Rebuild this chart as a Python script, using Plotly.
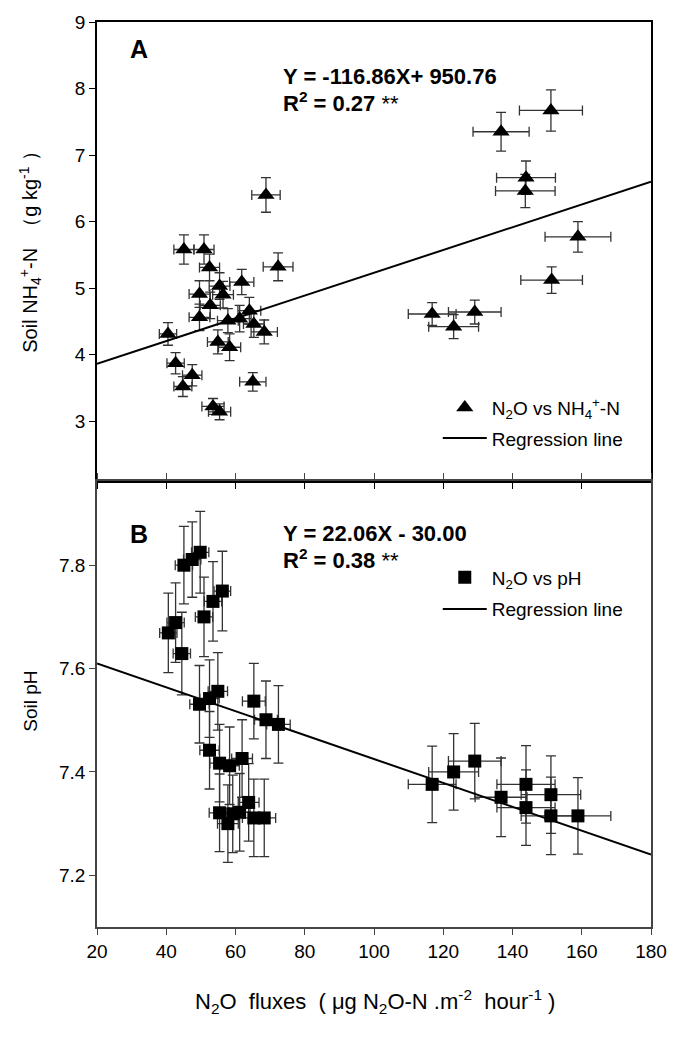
import plotly.graph_objects as go

# ---------------- Data: panel A (N2O vs NH4+-N) ----------------
a_x = [45.1, 50.9, 52.5, 55.4, 49.6, 56.4, 61.8, 72.3, 52.7, 49.6, 64.0, 57.8, 61.2,
       65.3, 68.3, 40.5, 54.9, 58.3, 42.7, 47.5, 44.8, 65.0, 53.5, 55.4, 68.8,
       151.1, 136.7, 143.9, 143.7, 158.9, 151.3, 116.8, 129.1, 123.0]
a_y = [5.58, 5.58, 5.31, 5.03, 4.91, 4.90, 5.09, 5.32, 4.74, 4.56, 4.66, 4.51, 4.54,
       4.46, 4.34, 4.31, 4.19, 4.11, 3.87, 3.69, 3.52, 3.59, 3.22, 3.14, 6.40,
       7.67, 7.35, 6.66, 6.46, 5.77, 5.12, 4.61, 4.64, 4.42]
a_ex = [2.9, 2.9, 2.9, 3.0, 3.0, 3.0, 3.5, 4.3, 2.9, 3.0, 3.3, 3.0, 3.3,
        3.0, 3.8, 2.5, 3.0, 3.2, 2.5, 2.8, 2.6, 3.8, 3.2, 3.2, 4.1,
        9.1, 8.1, 8.5, 8.6, 9.5, 8.9, 6.9, 7.6, 7.2]
a_ey = [0.22, 0.22, 0.20, 0.20, 0.20, 0.20, 0.19, 0.21, 0.20, 0.20, 0.20, 0.18, 0.20,
        0.20, 0.18, 0.17, 0.18, 0.20, 0.16, 0.16, 0.15, 0.14, 0.12, 0.12, 0.26,
        0.31, 0.29, 0.25, 0.25, 0.23, 0.20, 0.17, 0.18, 0.18]
a_reg_x = [20, 180]
a_reg_y = [3.86, 6.60]

# ---------------- Data: panel B (N2O vs pH) ----------------
b_x = [45.1, 47.5, 49.8, 56.2, 53.5, 50.9, 42.7, 40.6, 44.5, 54.9, 52.5, 49.6, 65.3,
       68.8, 72.4, 52.5, 55.4, 58.3, 61.9, 63.8, 55.4, 57.8, 59.2, 61.2, 65.3, 68.3,
       116.8, 123.0, 129.1, 136.7, 143.9, 143.9, 151.1, 151.1, 158.9]
b_y = [7.800, 7.811, 7.825, 7.750, 7.730, 7.700, 7.689, 7.669, 7.629, 7.556, 7.542,
       7.531, 7.537, 7.501, 7.492, 7.442, 7.417, 7.412, 7.426, 7.341, 7.321, 7.300,
       7.319, 7.322, 7.311, 7.311,
       7.376, 7.400, 7.421, 7.351, 7.376, 7.331, 7.356, 7.315, 7.315]
b_ex = [2.5, 2.5, 2.5, 2.4, 2.5, 2.5, 2.5, 2.5, 2.5, 2.8, 2.8, 2.8, 3.3,
        3.3, 3.4, 2.8, 2.8, 2.8, 3.0, 3.0, 3.0, 3.0, 3.0, 3.0, 3.3, 3.3,
        6.9, 7.2, 7.6, 7.5, 8.4, 8.4, 8.6, 8.6, 9.5]
b_ey = [0.075, 0.073, 0.079, 0.077, 0.077, 0.077, 0.077, 0.077, 0.080, 0.075, 0.075,
        0.075, 0.073, 0.075, 0.075, 0.075, 0.075, 0.075, 0.075, 0.075, 0.075, 0.075,
        0.075, 0.075, 0.075, 0.075,
        0.074, 0.074, 0.073, 0.076, 0.075, 0.073, 0.075, 0.075, 0.074]
b_reg_x = [20, 180]
b_reg_y = [7.61, 7.24]

x_ticks = [20, 40, 60, 80, 100, 120, 140, 160, 180]
a_y_ticks = [3, 4, 5, 6, 7, 8, 9]
b_y_ticks = [7.2, 7.4, 7.6, 7.8]
b_y_ticklabels = ["7.2", "7.4", "7.6", "7.8"]

# ---------------- Layout geometry ----------------
W, H = 679, 1039
L, R, T, B = 97, 653, 16, 927
split = 478
split_frac = (B - split) / (B - T)


def px(x):
    return (x - L) / (R - L)


def py(y):
    return (B - y) / (B - T)


FONT = "Arial, Liberation Sans, sans-serif"
err_style = dict(type="data", color="#333333", thickness=1.3, width=5)

fig = go.Figure()

fig.add_trace(go.Scatter(
    x=a_x, y=a_y, mode="markers", xaxis="x", yaxis="y",
    name="N<sub>2</sub>O vs NH<sub>4</sub><sup>+</sup>-N",
    marker=dict(symbol="triangle-up", size=15, color="black"),
    error_x=dict(array=a_ex, **err_style),
    error_y=dict(array=a_ey, **err_style),
    legend="legend", legendgroup="a1",
))
fig.add_trace(go.Scatter(
    x=a_reg_x, y=a_reg_y, mode="lines", xaxis="x", yaxis="y",
    name="Regression line", line=dict(color="black", width=2),
    legend="legend", legendgroup="a2",
))
fig.add_trace(go.Scatter(
    x=b_x, y=b_y, mode="markers", xaxis="x2", yaxis="y2",
    name="N<sub>2</sub>O vs pH",
    marker=dict(symbol="square", size=13, color="black"),
    error_x=dict(array=b_ex, **err_style),
    error_y=dict(array=b_ey, **err_style),
    legend="legend2", legendgroup="b1",
))
fig.add_trace(go.Scatter(
    x=b_reg_x, y=b_reg_y, mode="lines", xaxis="x2", yaxis="y2",
    name="Regression line", line=dict(color="black", width=2),
    legend="legend2", legendgroup="b2",
))

tickfont = dict(family=FONT, size=19, color="black")

fig.update_layout(
    width=W, height=H,
    margin=dict(l=L, r=W - R, t=T, b=H - B),
    plot_bgcolor="white", paper_bgcolor="white",
    font=dict(family=FONT, color="black"),
    xaxis=dict(domain=[0, 1], anchor="y", range=[20, 180], tickvals=x_ticks,
               showticklabels=False, ticks="outside", ticklen=6, tickcolor="black",
               showline=True, linecolor="black", linewidth=1.5, mirror=True,
               showgrid=False, zeroline=False),
    yaxis=dict(domain=[split_frac, 1], anchor="x", range=[2.1, 9], tickvals=a_y_ticks,
               ticks="outside", ticklen=6, tickcolor="black", tickfont=tickfont,
               showline=True, linecolor="black", linewidth=1.5, mirror=True,
               showgrid=False, zeroline=False),
    xaxis2=dict(domain=[0, 1], anchor="y2", range=[20, 180], tickvals=x_ticks,
                ticks="outside", ticklen=6, tickcolor="#444", tickfont=tickfont,
                showline=True, linecolor="#444", linewidth=1.5, mirror="ticks",
                showgrid=False, zeroline=False),
    yaxis2=dict(domain=[0, split_frac], anchor="x2", range=[7.1, 7.963],
                tickvals=b_y_ticks, ticktext=b_y_ticklabels,
                ticks="outside", ticklen=6, tickcolor="#444", tickfont=tickfont,
                showline=True, linecolor="#444", linewidth=1.5, mirror=True,
                showgrid=False, zeroline=False),
    legend=dict(x=px(439), y=py(385), xanchor="left", yanchor="top",
                font=dict(family=FONT, size=19), bgcolor="rgba(0,0,0,0)",
                itemwidth=44, tracegroupgap=3),
    legend2=dict(x=px(439), y=py(556), xanchor="left", yanchor="top",
                 font=dict(family=FONT, size=19), bgcolor="rgba(0,0,0,0)",
                 itemwidth=44, tracegroupgap=4),
)

ann = [
    dict(text="<b>A</b>", x=px(128), y=py(43), size=25),
    dict(text="<b>Y = -116.86X+ 950.76</b>", x=px(282), y=py(71), size=22),
    dict(text="<b>R<sup>2</sup> = 0.27</b> **", x=px(282), y=py(97), size=22),
    dict(text="<b>B</b>", x=px(128), y=py(531), size=25),
    dict(text="<b>Y = 22.06X - 30.00</b>", x=px(282), y=py(531), size=22),
    dict(text="<b>R<sup>2</sup> = 0.38</b> **", x=px(282), y=py(557), size=22),
]
for a in ann:
    fig.add_annotation(text=a["text"], x=a["x"], y=a["y"], xref="paper", yref="paper",
                       xanchor="left", yanchor="middle", showarrow=False,
                       font=dict(family=FONT, size=a["size"], color="black"))

fig.add_annotation(text="Soil NH<sub>4</sub><sup>+</sup>-N  （g kg<sup>-1</sup> ）",
                   x=px(30), y=py(242), xref="paper", yref="paper", textangle=-90,
                   showarrow=False, xanchor="center", yanchor="middle",
                   font=dict(family=FONT, size=20, color="black"))
fig.add_annotation(text="Soil pH",
                   x=px(30), y=py(700), xref="paper", yref="paper", textangle=-90,
                   showarrow=False, xanchor="center", yanchor="middle",
                   font=dict(family=FONT, size=19, color="black"))
fig.add_annotation(text="N<sub>2</sub>O  fluxes  ( μg N<sub>2</sub>O-N .m<sup>-2</sup>  hour<sup>-1</sup> )",
                   x=px(376), y=py(1002), xref="paper", yref="paper",
                   showarrow=False, xanchor="center", yanchor="middle",
                   font=dict(family=FONT, size=22, color="black"))

fig.write_html("out.html",
               config={"displayModeBar": False},
               post_script="document.body.style.margin='0';document.body.style.padding='0';")
